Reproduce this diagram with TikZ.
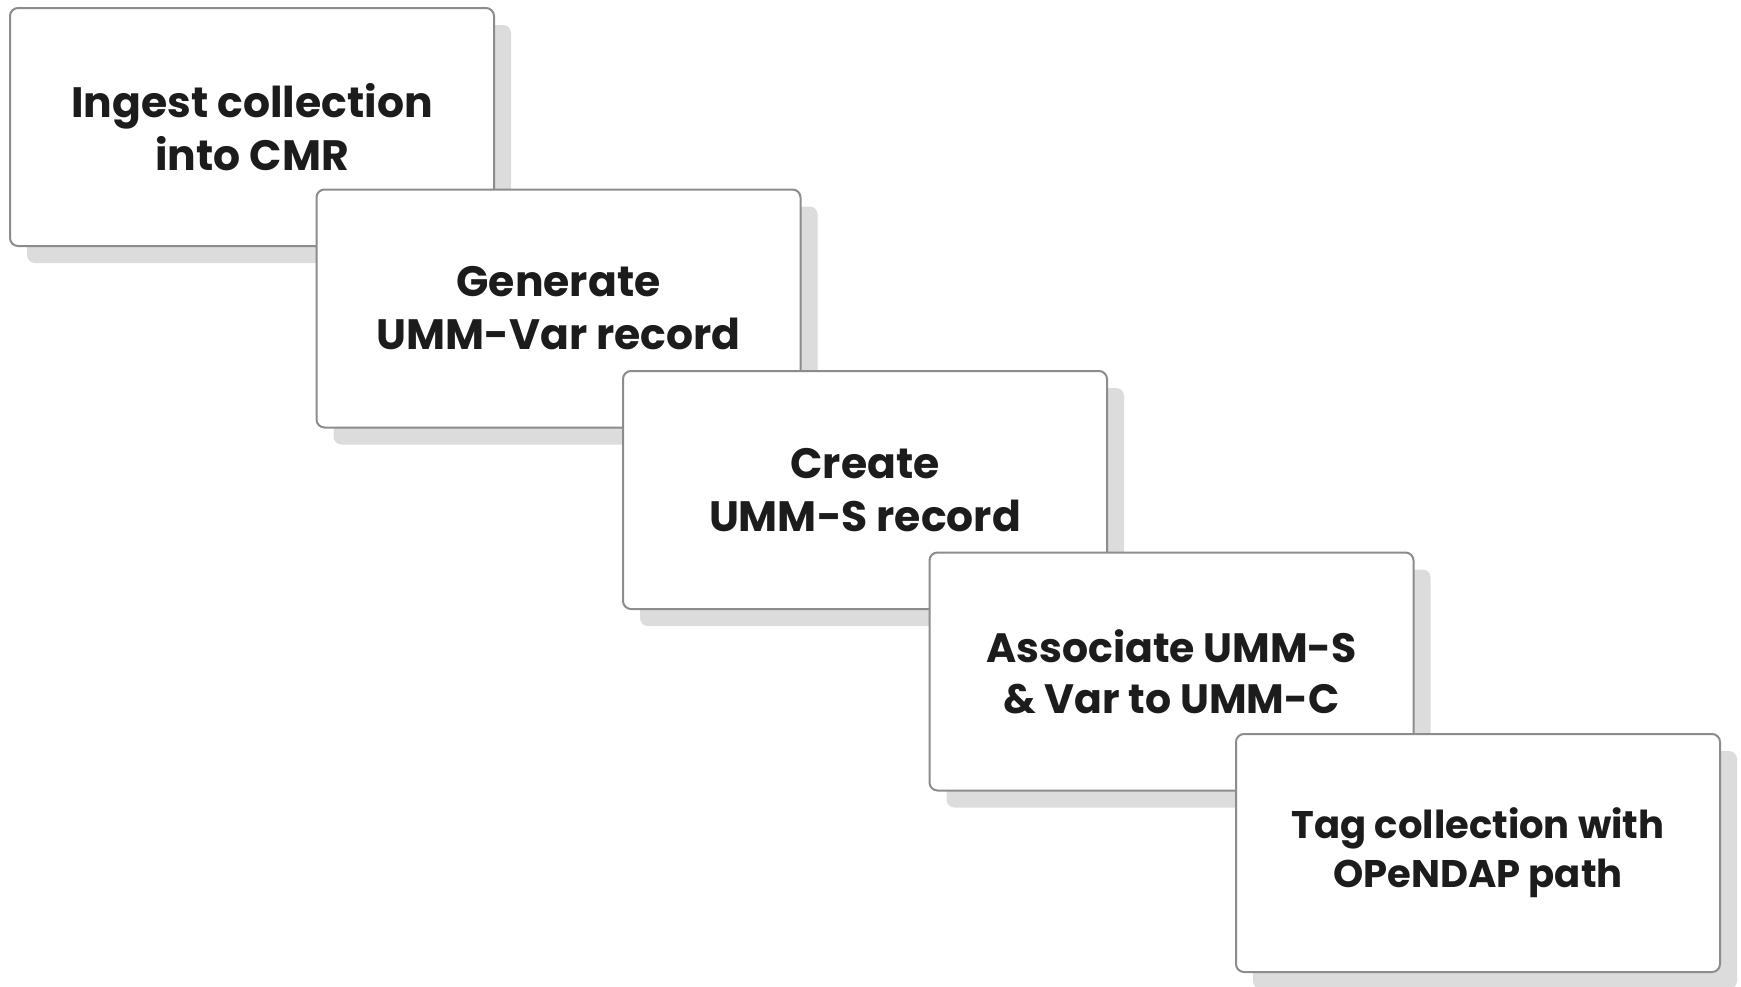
\documentclass[tikz,border=0pt]{standalone}
\usepackage{fontspec}
\setmainfont{Poppins}
\usetikzlibrary{shadows}
\definecolor{boxline}{HTML}{8C8C8C}
\definecolor{boxshade}{HTML}{DCDCDC}
\definecolor{boxtext}{HTML}{1C1C1C}

\begin{document}
\begin{tikzpicture}
  [x=1pt,y=-1pt,
   every node/.style={rectangle,rounded corners=8pt,draw=boxline,line width=2pt,
     fill=white,minimum width=484pt,minimum height=238pt,align=center,
     text=boxtext,font=\bfseries\fontsize{42.5}{53}\selectfont,
     drop shadow={shadow xshift=17pt,shadow yshift=-17pt,fill=boxshade,opacity=1,draw=none}},
   smalltext/.style={font=\bfseries\fontsize{38.5}{49}\selectfont}]
  \useasboundingbox (0,0) rectangle (1741,986);
  \node (ingest)    at (252,127)    {Ingest collection\\into CMR};
  \node (genvar)    at (558.5,308.5) {Generate\\UMM-Var record};
  \node (creates)   at (865,490)    {Create\\UMM-S record};
  \node[font=\bfseries\fontsize{41}{51}\selectfont] (associate) at (1171.5,671.5) {Associate UMM-S\\\& Var to UMM-C};
  \node[smalltext] (tag) at (1478,853) {Tag collection with\\OPeNDAP path};
\end{tikzpicture}
\end{document}
